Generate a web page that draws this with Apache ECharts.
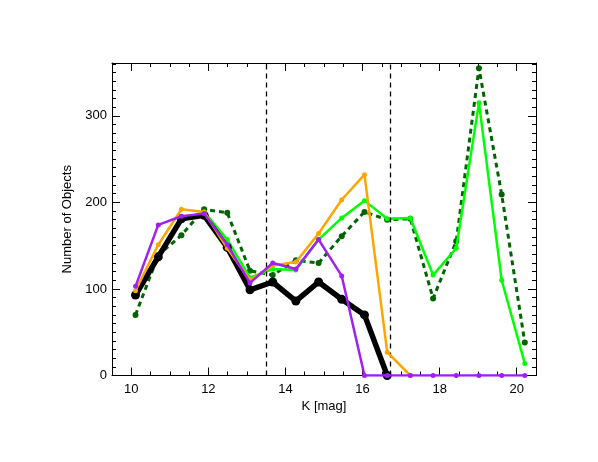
<!DOCTYPE html>
<html>
<head>
<meta charset="utf-8">
<script src="https://cdn.jsdelivr.net/npm/echarts@6/dist/echarts.min.js"></script>
<style>
html,body{margin:0;padding:0;background:#fff;}
#chart{width:598px;height:462px;}
</style>
</head>
<body>
<div id="chart"></div>
<script>
// Bin centres (K magnitude)
var kBins = [10.11, 10.70, 11.30, 11.89, 12.49, 13.08, 13.67, 14.27, 14.86, 15.46, 16.05, 16.64, 17.24, 17.83, 18.43, 19.02, 19.61, 20.21];

// Series values (Number of Objects)
var blackVals     = [93, 137, 181, 185, 148, 99, 108, 86, 108, 88, 70, 0];
var orangeVals    = [98, 151, 192, 189, 147, 110, 127, 131, 164, 203, 232, 27, 0];
var greenVals     = [95, 140, 180, 189, 157, 113, 123, 122, 157, 182, 202, 181, 182, 116, 147, 315, 110, 14];
var darkGreenVals = [70, 139, 162, 192, 188, 121, 116, 133, 130, 161, 189, 180, 181, 89, 155, 355, 209, 38];
var purpleVals    = [103, 174, 184, 187, 151, 107, 130, 123, 157, 115, 0, 0, 0, 0, 0, 0, 0, 0];

// Vertical dashed reference lines
var refLines = [13.5, 16.73];

// Axis ticks
var xMajor = [10, 12, 14, 16, 18, 20];
var xMinorStep = 0.5;
var yMajor = [0, 100, 200, 300];
var yMinorStep = 10;
var xMin = 9.5, xMax = 20.5, yMin = 0, yMax = 361;

function minorTicks(lo, hi, step, majors) {
  var out = [];
  for (var v = lo; v <= hi + 1e-9; v += step) {
    var r = Math.round(v * 1000) / 1000;
    if (majors.indexOf(r) < 0) out.push(r);
  }
  return out;
}
var xMinor = minorTicks(10, 20.5, xMinorStep, xMajor);
var yMinor = minorTicks(0, 360, yMinorStep, yMajor);

function pts(vals) {
  return vals.map(function (v, i) { return [kBins[i], v]; });
}

var font = 'Liberation Sans';
var lineC = '#000';

function xAx(pos, ticks, len, showLine, showLabel) {
  return {
    type: 'value', position: pos, min: xMin, max: xMax,
    axisLine: { show: showLine, onZero: false, lineStyle: { color: lineC, width: 1 } },
    axisTick: { show: true, inside: true, length: len, customValues: ticks, lineStyle: { color: lineC, width: 1 } },
    axisLabel: showLabel ? { show: true, customValues: ticks, margin: 7, color: '#000', fontSize: 13, fontFamily: font,
      formatter: function (v) { return String(v); } } : { show: false },
    splitLine: { show: false }
  };
}
function yAx(pos, ticks, len, showLine, showLabel) {
  return {
    type: 'value', position: pos, min: yMin, max: yMax,
    axisLine: { show: showLine, onZero: false, lineStyle: { color: lineC, width: 1 } },
    axisTick: { show: true, inside: true, length: len, customValues: ticks, lineStyle: { color: lineC, width: 1 } },
    axisLabel: showLabel ? { show: true, customValues: ticks, margin: 5, color: '#000', fontSize: 13, fontFamily: font,
      formatter: function (v) { return String(v); } } : { show: false },
    splitLine: { show: false }
  };
}

var xAxes = [
  xAx('bottom', xMajor, 8, true, true),
  xAx('bottom', xMinor, 4, false, false),
  xAx('top', xMajor, 8, true, false),
  xAx('top', xMinor, 4, false, false)
];
xAxes[0].name = 'K [mag]';
xAxes[0].nameLocation = 'middle';
xAxes[0].nameGap = 20;
xAxes[0].nameTextStyle = { color: '#000', fontSize: 13, fontFamily: font };

var yAxes = [
  yAx('left', yMajor, 8, true, true),
  yAx('left', yMinor, 4, false, false),
  yAx('right', yMajor, 8, true, false),
  yAx('right', yMinor, 4, false, false)
];
yAxes[0].name = 'Number of Objects';
yAxes[0].nameLocation = 'middle';
yAxes[0].nameGap = 29;
yAxes[0].nameTextStyle = { color: '#000', fontSize: 13, fontFamily: font };

function lineSeries(name, vals, color, width, size, dashed, z) {
  return {
    name: name, type: 'line', data: pts(vals), xAxisIndex: 0, yAxisIndex: 0,
    symbol: 'circle', symbolSize: size, showSymbol: true, z: z,
    lineStyle: { color: color, width: width, type: dashed ? [5, 4] : 'solid' },
    itemStyle: { color: color },
    animation: false, silent: true
  };
}

var series = [
  lineSeries('darkgreen', darkGreenVals, '#006400', 3, 6, true, 2),
  lineSeries('green', greenVals, '#00FF00', 2.5, 5, false, 3),
  lineSeries('black', blackVals, '#000000', 5.5, 9, false, 4),
  lineSeries('orange', orangeVals, '#FFA500', 2.5, 5, false, 5),
  lineSeries('purple', purpleVals, '#A020F0', 2.5, 5, false, 6)
];
series.push({
  type: 'line', data: [], xAxisIndex: 0, yAxisIndex: 0, silent: true, animation: false,
  markLine: {
    symbol: ['none', 'none'], silent: true, animation: false,
    label: { show: false },
    lineStyle: { color: '#000', width: 1.3, type: [5, 4] },
    data: refLines.map(function (x) { return { xAxis: x }; })
  }
});

var chart = echarts.init(document.getElementById('chart'), null, { renderer: 'canvas' });
chart.setOption({
  animation: false,
  backgroundColor: '#fff',
  grid: { left: 112, right: 62, top: 63, bottom: 86.5, containLabel: false },
  xAxis: xAxes,
  yAxis: yAxes,
  series: series
});
</script>
</body>
</html>
